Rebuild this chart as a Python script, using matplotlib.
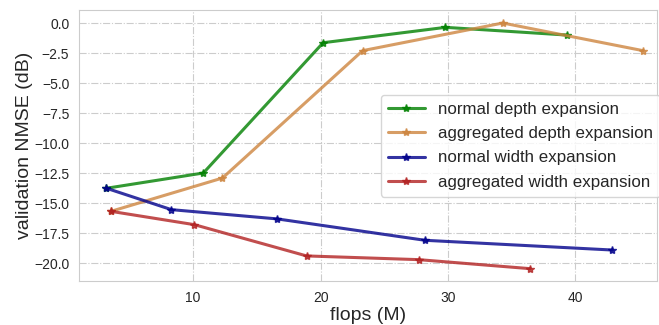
import matplotlib
matplotlib.use("Agg")
import matplotlib.pyplot as plt
import seaborn as sns

sns.set_style("whitegrid", {"grid.linestyle": "-."})
plt.rcParams['font.family'] = ['Liberation Sans', 'DejaVu Sans']

# normal depth expansion
nd_x = [3.2, 10.8, 20.2, 29.8, 39.3]
nd_y = [-13.75, -12.48, -1.64, -0.36, -1.0]
# aggregated depth expansion
ad_x = [3.55, 12.3, 23.3, 34.3, 45.3]
ad_y = [-15.67, -12.9, -2.3, 0.0, -2.3]
# normal width expansion
nw_x = [3.2, 8.3, 16.6, 28.2, 42.9]
nw_y = [-13.75, -15.53, -16.3, -18.08, -18.89]
# aggregated width expansion
aw_x = [3.55, 10.1, 18.9, 27.7, 36.45]
aw_y = [-15.67, -16.78, -19.38, -19.69, -20.44]

fig, ax = plt.subplots(figsize=(6.59, 3.25), dpi=100)
ax.plot(nd_x, nd_y, '-*', color='green', lw=2.2, ms=6, alpha=0.8, label='normal depth expansion')
ax.plot(ad_x, ad_y, '-*', color='peru', lw=2.2, ms=6, alpha=0.8, label='aggregated depth expansion')
ax.plot(nw_x, nw_y, '-*', color='darkblue', lw=2.2, ms=6, alpha=0.8, label='normal width expansion')
ax.plot(aw_x, aw_y, '-*', color='firebrick', lw=2.2, ms=6, alpha=0.8, label='aggregated width expansion')

ax.set_xlim(1.05, 46.4)
ax.set_ylim(-21.45, 1.05)
ax.set_xticks([10, 20, 30, 40])
ax.set_yticks([0, -2.5, -5, -7.5, -10, -12.5, -15, -17.5, -20])
ax.tick_params(labelsize=10)
ax.set_xlabel('flops (M)', fontsize=14, labelpad=2)
ax.set_ylabel('validation NMSE (dB)', fontsize=14, labelpad=0.5)
ax.legend(fontsize=12.2, loc='upper left', bbox_to_anchor=(0.522, 0.687), borderaxespad=0,
          handlelength=2.2, handletextpad=0.8, borderpad=0.4, labelspacing=0.55)

plt.subplots_adjust(left=0.12, right=0.997, top=0.968, bottom=0.136)
plt.savefig('out.png', dpi=100)
